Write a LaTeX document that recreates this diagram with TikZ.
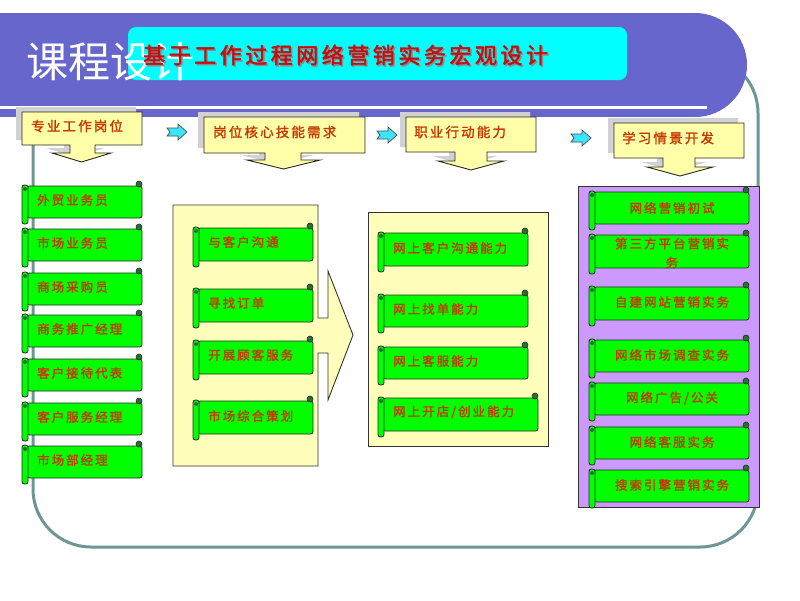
\documentclass[tikz,border=0pt]{standalone}
\usepackage{fontspec}
\newfontfamily\cjk{Noto Sans CJK SC}
\newfontfamily\cjkb[FakeBold=1.6,LetterSpace=16]{Noto Sans CJK SC}
\newfontfamily\cjkt[FakeBold=2.2,LetterSpace=16]{Noto Sans CJK SC}
\definecolor{bannerc}{RGB}{102,102,204}
\definecolor{cyanbox}{RGB}{0,255,255}
\definecolor{titlered}{RGB}{195,15,15}
\definecolor{hdrfill}{RGB}{255,255,170}
\definecolor{panelfill}{RGB}{255,255,187}
\definecolor{purplefill}{RGB}{204,153,255}
\definecolor{scrollgreen}{RGB}{0,255,0}
\definecolor{edgec}{RGB}{30,50,30}
\definecolor{curlc}{RGB}{40,110,60}
\definecolor{txtc}{RGB}{200,55,0}
\definecolor{tealline}{RGB}{110,150,150}
\definecolor{arrowcyan}{RGB}{60,230,250}
\newcommand{\scrollshape}[4]{%
  \filldraw[fill=scrollgreen,draw=edgec,line width=0.9pt,rounded corners=2.5pt]
    ({#1+5},#2) -- (#3,#2) -- (#3,#4) -- ({#1+5},#4) -- cycle;
  \filldraw[fill=curlc,draw=edgec,line width=0.6pt] ({#3-3},{#2-2}) circle (3pt);
  \filldraw[fill=scrollgreen,draw=edgec,line width=0.9pt,rounded corners=2.5pt]
    (#1,{#2-1}) rectangle ({#1+6},{#4+6});
  \fill[curlc] ({#1+3},{#2+3}) circle (2pt);
}
\newcommand{\callout}[9]{% x1 y1 x2 y2 sx1 sx2 hx1 hx2 shouldery
  (#1,#2) -- (#3,#2) -- (#3,#4) -- (#6,#4) -- (#6,#9) -- (#8,#9) -- ({(#7+#8)/2},{#9+9}) -- (#7,#9) -- (#5,#9) -- (#5,#4) -- (#1,#4) -- cycle
}
\newcommand{\smallarrow}[2]{%
  (#1,{#2+4}) -- ({#1+11},{#2+4}) -- ({#1+11},#2) -- ({#1+20},{#2+8}) -- ({#1+11},{#2+16}) -- ({#1+11},{#2+12}) -- (#1,{#2+12}) -- ({#1+3},{#2+8}) -- cycle
}
\tikzset{
  stxt/.style={text=txtc,font=\cjkb\fontsize{12.5}{14}\selectfont,inner sep=0pt},
  htxt/.style={text=txtc,font=\cjkb\fontsize{13.5}{15}\selectfont,inner sep=0pt,anchor=west},
  hdr/.style={fill=hdrfill,draw=black!85,line width=0.9pt,line join=miter},
  hdrshadow/.style={fill=black!18},
  smarrow/.style={fill=arrowcyan,draw=black!70,line width=0.7pt},
}
\begin{document}
\begin{tikzpicture}[x=1pt,y=-1pt]
\useasboundingbox (0,0) rectangle (800,600);
\fill[white] (0,0) rectangle (800,600);
% teal outline
\draw[tealline,line width=3pt,rounded corners=58pt] (33,55) rectangle (758,547);
% banner
\fill[bannerc] (0,13) rectangle (695,117);
\fill[bannerc] (695,65) circle (52pt);
\fill[white] (0,105.5) rectangle (707,108.5);
% cyan box
\fill[cyanbox,rounded corners=8pt] (128,27) rectangle (627,80);
\node[text=white,font=\cjk\fontsize{42}{46}\selectfont,anchor=west,inner sep=0pt] (kc) at (26,62) {课程设计};
\node[text=black!45,font=\cjkt\fontsize{22}{24}\selectfont,anchor=west,inner sep=0pt] at (144.5,56.5) {基于工作过程网络营销实务宏观设计};
\node[text=titlered,font=\cjkt\fontsize{22}{24}\selectfont,anchor=west,inner sep=0pt] (title) at (143,55) {基于工作过程网络营销实务宏观设计};
% header callouts
\begin{scope}[shift={(-6,-5)}]
\fill[hdrshadow] \callout{22}{112}{142}{145}{70}{95}{52}{111}{153};
\fill[hdrshadow] \callout{204}{117}{365}{153}{265}{301}{247}{320}{160};
\fill[hdrshadow] \callout{406}{117}{536}{152}{455}{487}{438}{504}{161};
\fill[hdrshadow] \callout{614}{123}{744}{158}{663}{695}{647}{713}{167};
\end{scope}
\filldraw[hdr] \callout{22}{112}{142}{145}{70}{95}{52}{111}{153};
\filldraw[hdr] \callout{204}{117}{365}{153}{265}{301}{247}{320}{160};
\filldraw[hdr] \callout{406}{117}{536}{152}{455}{487}{438}{504}{161};
\filldraw[hdr] \callout{614}{123}{744}{158}{663}{695}{647}{713}{167};
\node[htxt] (h1) at (31,126) {专业工作岗位};
\node[htxt] (h2) at (213,132) {岗位核心技能需求};
\node[htxt] (h3) at (414,132) {职业行动能力};
\node[htxt] (h4) at (622,138) {学习情景开发};
% small arrows
\filldraw[smarrow] \smallarrow{167}{124};
\filldraw[smarrow] \smallarrow{377}{127};
\filldraw[smarrow] \smallarrow{571}{130};
% panels
\filldraw[fill=panelfill,draw=black!80,line width=0.9pt,line join=miter]
  (173,205) -- (318,205) -- (318,318) -- (328,318) -- (328,271) -- (353,335) -- (328,400) -- (328,353) -- (318,353) -- (318,466) -- (173,466) -- cycle;
\filldraw[fill=panelfill,draw=black!80,line width=0.9pt] (368,212) rectangle (548,446);
\filldraw[fill=purplefill,draw=black!80,line width=0.9pt] (578,186) rectangle (759,507);
% column 1
\scrollshape{22}{186}{142}{218}
\scrollshape{22}{229}{142}{261}
\scrollshape{22}{273}{142}{305}
\scrollshape{22}{315}{142}{347}
\scrollshape{22}{359}{142}{391}
\scrollshape{22}{403}{142}{435}
\scrollshape{22}{446}{142}{478}
\node[stxt,anchor=west] (a1) at (37,200) {外贸业务员};
\node[stxt,anchor=west] (a2) at (37,243) {市场业务员};
\node[stxt,anchor=west] (a3) at (37,287) {商场采购员};
\node[stxt,anchor=west] (a4) at (37,329) {商务推广经理};
\node[stxt,anchor=west] (a5) at (37,373) {客户接待代表};
\node[stxt,anchor=west] (a6) at (37,417) {客户服务经理};
\node[stxt,anchor=west] (a7) at (37,460) {市场部经理};
% column 2
\scrollshape{193}{228}{313}{261}
\scrollshape{193}{289}{313}{322}
\scrollshape{193}{341}{313}{374}
\scrollshape{193}{401}{313}{434}
\node[stxt,anchor=west] (b1) at (208,242) {与客户沟通};
\node[stxt,anchor=west] (b2) at (208,303) {寻找订单};
\node[stxt,anchor=west] (b3) at (208,355) {开展顾客服务};
\node[stxt,anchor=west] (b4) at (208,416) {市场综合策划};
% column 3
\scrollshape{378}{233}{528}{266}
\scrollshape{378}{295}{528}{327}
\scrollshape{378}{347}{528}{379}
\scrollshape{378}{398}{538}{431}
\node[stxt,anchor=west] (c1) at (393,248) {网上客户沟通能力};
\node[stxt,anchor=west] (c2) at (393,309) {网上找单能力};
\node[stxt,anchor=west] (c3) at (393,361) {网上客服能力};
\node[stxt,anchor=west] (c4) at (393,412) {网上开店/创业能力};
% column 4
\scrollshape{589}{192}{749}{224}
\scrollshape{589}{235}{749}{268}
\scrollshape{589}{287}{749}{320}
\scrollshape{589}{340}{749}{372}
\scrollshape{589}{383}{749}{415}
\scrollshape{589}{427}{749}{459}
\scrollshape{589}{470}{749}{502}
\node[stxt] (d1) at (672,208) {网络营销初试};
\node[stxt,align=center,font=\cjkb\fontsize{12.5}{19}\selectfont] (d2) at (672,253) {第三方平台营销实\\务};
\node[stxt] (d3) at (672,302) {自建网站营销实务};
\node[stxt] (d4) at (672,355) {网络市场调查实务};
\node[stxt] (d5) at (672,398) {网络广告/公关};
\node[stxt] (d6) at (672,442) {网络客服实务};
\node[stxt] (d7) at (672,485) {搜索引擎营销实务};
\end{tikzpicture}
\end{document}
